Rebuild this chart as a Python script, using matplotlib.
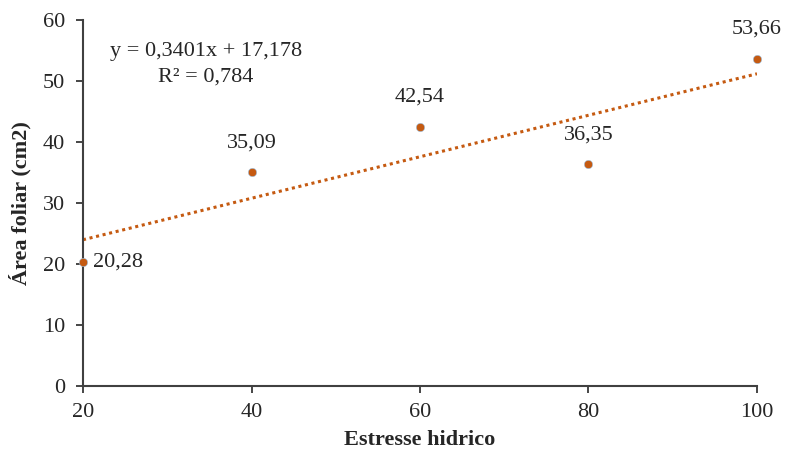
import numpy as np
from matplotlib import pyplot as plt

plt.rcParams['font.family'] = ['Liberation Serif', 'DejaVu Serif']

estresse = [20, 40, 60, 80, 100]
area = [20.28, 35.09, 42.54, 36.35, 53.66]
rotulos = ['20,28', '35,09', '42,54', '36,35', '53,66']
laranja = '#C55A11'
texto = '#262626'

fig = plt.figure(figsize=(7.86, 4.55), dpi=100)
ax = fig.add_axes([0.1056, 0.1516, 0.8575, 0.8044])

# linha de tendencia
a, b = np.polyfit(estresse, area, 1)
xs = np.array([20, 100])
ax.plot(xs, a * xs + b, color=laranja, linewidth=2.2, linestyle=(0, (1, 1.2)), zorder=2)

ax.scatter(estresse, area, s=36, color=laranja, edgecolor='#9DC3E6', linewidth=0.4,
           zorder=3, clip_on=False)

for x, y, t in zip(estresse, area, rotulos):
    if x == 20:
        ax.annotate(t, (x, y), xytext=(7, 0), textcoords='offset points',
                    ha='left', va='center', fontsize=16, color=texto)
    else:
        ax.annotate(t, (x, y), xytext=(0, 21), textcoords='offset points',
                    ha='center', va='center', fontsize=16, color=texto)

ax.text(34.6, 54.8, 'y = 0,3401x + 17,178', ha='center', va='center', fontsize=16, color=texto)
ax.text(34.6, 50.7, 'R² = 0,784', ha='center', va='center', fontsize=16, color=texto)

ax.set_xlim(20, 100)
ax.set_ylim(0, 60)
ax.set_xticks([20, 40, 60, 80, 100])
ax.set_yticks(range(0, 61, 10))
ax.tick_params(labelsize=16, colors=texto, direction='out', length=5, width=1.2)
ax.tick_params(axis='y', pad=8)
ax.tick_params(axis='x', pad=7)
for s in ['top', 'right']:
    ax.spines[s].set_visible(False)
for s in ['left', 'bottom']:
    ax.spines[s].set_linewidth(1.5)
    ax.spines[s].set_color('#404040')

ax.set_xlabel('Estresse hidrico', fontsize=16, fontweight='bold', color=texto, labelpad=6)
ax.set_ylabel('Área foliar (cm2)', fontsize=16, fontweight='bold', color=texto, labelpad=8)

plt.savefig('out.png', dpi=100)
